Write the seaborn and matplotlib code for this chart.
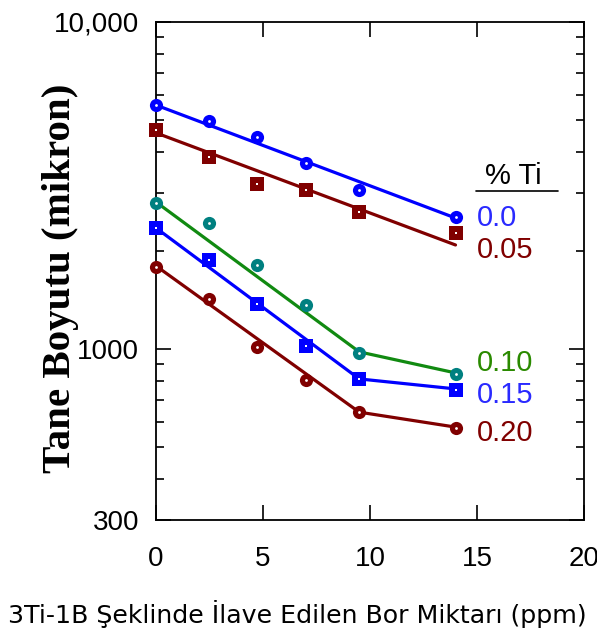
import numpy as np
import pandas as pd
import matplotlib
matplotlib.use("Agg")
import matplotlib.pyplot as plt
import seaborn as sns

# ---------------------------------------------------
# data
# ---------------------------------------------------
bor_ppm = [0, 2.5, 4.7, 7.0, 9.5, 14.0]

ti_00 = [5570, 4980, 4450, 3710, 3070, 2535]
ti_05 = [4670, 3870, 3200, 3070, 2620, 2260]
ti_10 = [2800, 2430, 1810, 1365, 975, 839]
ti_15 = [2340, 1870, 1370, 1020, 810, 750]
ti_20 = [1780, 1420, 1015, 805, 641, 573]

# fitted lines
fit_x_top = [0, 14]
fit_00 = [5570, 2515]
fit_05 = [4580, 2080]
fit_x_low = [0, 9.5, 14]
fit_10 = [2815, 980, 845]
fit_15 = [2345, 810, 755]
fit_20 = [1795, 641, 577]

series = ["0.0", "0.05", "0.10", "0.15", "0.20"]
label_y = [2520, 2010, 905, 725, 555]

line_colors = ["#0000ff", "#800000", "#118a11", "#0000ff", "#800000"]
mark_colors = ["#0000ff", "#800000", "#008080", "#0000ff", "#800000"]
text_colors = ["#2a2aff", "#800000", "#2a8a00", "#2a2aff", "#800000"]
markers = ["o", "s", "o", "s", "o"]

points = pd.DataFrame({
    "x": bor_ppm * 5,
    "y": ti_00 + ti_05 + ti_10 + ti_15 + ti_20,
    "ti": np.repeat(series, len(bor_ppm)),
})
lines = pd.DataFrame({
    "x": fit_x_top * 2 + fit_x_low * 3,
    "y": fit_00 + fit_05 + fit_10 + fit_15 + fit_20,
    "ti": ["0.0"] * 2 + ["0.05"] * 2 + ["0.10"] * 3 + ["0.15"] * 3 + ["0.20"] * 3,
})

# ---------------------------------------------------
# plot
# ---------------------------------------------------
sns.set_style("ticks")
plt.rcParams["font.family"] = ["Liberation Sans", "DejaVu Sans"]
plt.rcParams["text.color"] = "black"
plt.rcParams["axes.labelcolor"] = "black"

fig = plt.figure(figsize=(5.97, 6.37), dpi=100)
ax = fig.add_axes([0.2613, 0.1837, 0.7167, 0.7818])

sns.lineplot(data=lines, x="x", y="y", hue="ti", hue_order=series,
             palette=dict(zip(series, line_colors)), linewidth=2.3,
             legend=False, ax=ax)

for s, c, m in zip(series, mark_colors, markers):
    sub = points[points.ti == s]
    sns.scatterplot(data=sub, x="x", y="y", color=c, marker=m, s=90,
                    linewidth=0, ax=ax, clip_on=False, zorder=5)
    sns.scatterplot(data=sub, x="x", y="y", color="white", marker=m, s=4,
                    linewidth=0, ax=ax, clip_on=False, zorder=6)

ax.set_yscale("log")
ax.set_xlim(0, 20)
ax.set_ylim(300, 10000)
ax.set_xticks([0, 5, 10, 15, 20])
ax.set_yticks([300, 1000, 10000])
ax.set_yticklabels(["300", "1000", "10,000"])
ax.yaxis.set_minor_formatter(matplotlib.ticker.NullFormatter())

for sp in ax.spines.values():
    sp.set_linewidth(1.3)
    sp.set_color("black")
ax.tick_params(which="both", direction="in", top=True, right=True,
               width=1.2, colors="black", labelsize=20)
ax.tick_params(which="major", length=11)
ax.tick_params(which="minor", length=6)
ax.tick_params(axis="x", pad=19)
ax.tick_params(axis="y", pad=12)

# right-hand labels
ax.text(16.7, 3380, "% Ti", fontsize=21, ha="center", va="center")
ax.plot([14.95, 18.8], [3040, 3040], color="black", lw=1.2, clip_on=False)
for s, yy, c in zip(series, label_y, text_colors):
    ax.text(15.0, yy, s, fontsize=21, color=c, ha="left", va="center")

ax.set_xlabel("3Ti-1B Şeklinde İlave Edilen Bor Miktarı (ppm)",
              fontsize=18.2, family=["DejaVu Sans"])
ax.xaxis.set_label_coords(0.33, -0.16)
ax.set_ylabel("Tane Boyutu (mikron)", fontsize=29.5, fontweight="bold",
              family=["Liberation Serif"])
ax.yaxis.set_label_coords(-0.18, 0.486)

fig.savefig("out.png", dpi=100)
